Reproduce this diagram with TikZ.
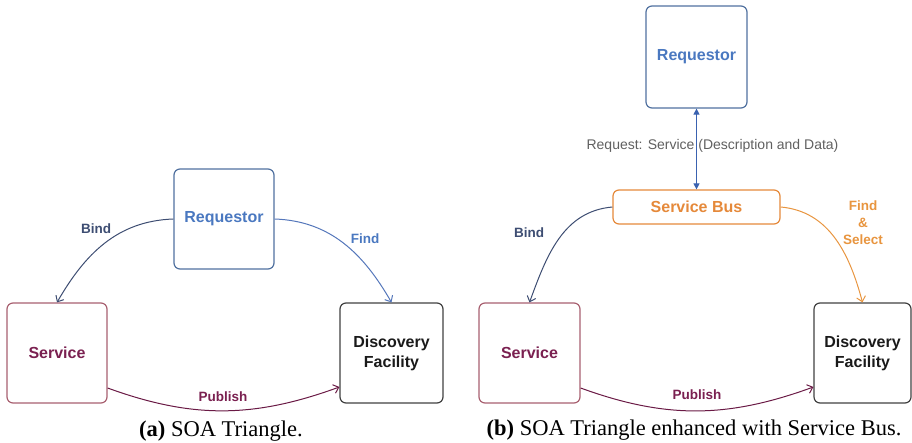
\documentclass[tikz,border=0pt]{standalone}
\usepackage{fontspec}
\setmainfont{Liberation Serif}
\newfontfamily\arialfont{Liberation Sans}
\usetikzlibrary{arrows.meta}
\definecolor{reqtext}{HTML}{4A78C0}
\definecolor{reqborder}{HTML}{50709F}
\definecolor{svctext}{HTML}{7A2050}
\definecolor{svcborder}{HTML}{A86070}
\definecolor{disctext}{HTML}{1A1A1A}
\definecolor{discborder}{HTML}{404040}
\definecolor{bindcol}{HTML}{3D4D72}
\definecolor{findcol}{HTML}{5577BB}
\definecolor{pubcol}{HTML}{6A1A45}
\definecolor{buscol}{HTML}{E5893A}
\definecolor{selcol}{HTML}{E8953F}
\definecolor{dblcol}{HTML}{3A62B0}
\definecolor{reqlbl}{HTML}{606060}
\tikzset{
  boxbase/.style={draw, rounded corners=6pt, line width=1.2pt, inner sep=0pt,
    align=center, font=\arialfont\bfseries\fontsize{16}{20}\selectfont},
  bigbox/.style={boxbase, minimum width=100pt, minimum height=100pt},
  lbl/.style={font=\arialfont\bfseries\fontsize{13.5}{17}\selectfont, align=center, inner sep=0pt},
  conn/.style={line width=1pt, -{Straight Barb[length=5pt,width=9pt,line width=1pt]}},
  captext/.style={font=\fontsize{22.5}{26}\selectfont, inner sep=0pt}
}
\begin{document}
\begin{tikzpicture}[x=1pt,y=-1pt]
\useasboundingbox (0,0) rectangle (912,443);
% ---------- (a) ----------
\node[bigbox, draw=reqborder, text=reqtext] (reqa) at (224,219) {Requestor};
\node[bigbox, draw=svcborder, text=svctext] (svca) at (57,353) {Service};
\node[bigbox, draw=discborder, text=disctext, minimum width=103pt] (disca) at (391.5,353) {Discovery\\Facility};
\draw[conn, bindcol] (reqa.west) to[out=182,in=60] (svca.north);
\draw[conn, findcol] (reqa.east) to[out=-2,in=120] (disca.north);
\draw[conn, pubcol] ([yshift=-35pt]svca.east) to[out=-20,in=200] ([yshift=-34pt]disca.west);
\node[lbl, text=bindcol] (binda) at (96,229) {Bind};
\node[lbl, text=reqtext] (finda) at (365,239) {Find};
\node[lbl, text=svctext] (puba) at (223,397) {Publish};
\node[captext] (capa) at (221,431) {\textbf{(a)} SOA Triangle.};
% ---------- (b) ----------
\node[bigbox, draw=reqborder, text=reqtext, minimum width=101pt, minimum height=102pt] (reqb) at (696.5,57) {Requestor};
\node[boxbase, draw=buscol, text=buscol, minimum width=167pt, minimum height=34pt] (bus) at (696.5,207) {Service Bus};
\node[bigbox, draw=svcborder, text=svctext, minimum width=101pt] (svcb) at (529.5,353) {Service};
\node[bigbox, draw=discborder, text=disctext, minimum width=97pt] (discb) at (862.5,353) {Discovery\\Facility};
\draw[dblcol, line width=1pt, {Triangle[length=6pt,width=6pt]}-{Triangle[length=6pt,width=6pt]}] (reqb.south) -- (bus.north);
\node[font=\arialfont\fontsize{14}{17}\selectfont, text=reqlbl, inner sep=0pt] (reql) at (712.5,146) {Request: Service (Description and Data)};
\draw[conn, bindcol] (bus.west) to[out=185,in=70] (svcb.north);
\draw[conn, selcol] (bus.east) to[out=-5,in=105] (discb.north);
\draw[conn, pubcol] ([yshift=-35pt]svcb.east) to[out=-20,in=200] ([yshift=-34pt]discb.west);
\node[lbl, text=bindcol] (bindb) at (529,233) {Bind};
\node[lbl, text=selcol] (selb) at (863,223) {Find\\\&\\Select};
\node[lbl, text=svctext] (pubb) at (697,395) {Publish};
\node[captext] (capb) at (694,430) {\textbf{(b)} SOA Triangle enhanced with Service Bus.};
\end{tikzpicture}
\end{document}
